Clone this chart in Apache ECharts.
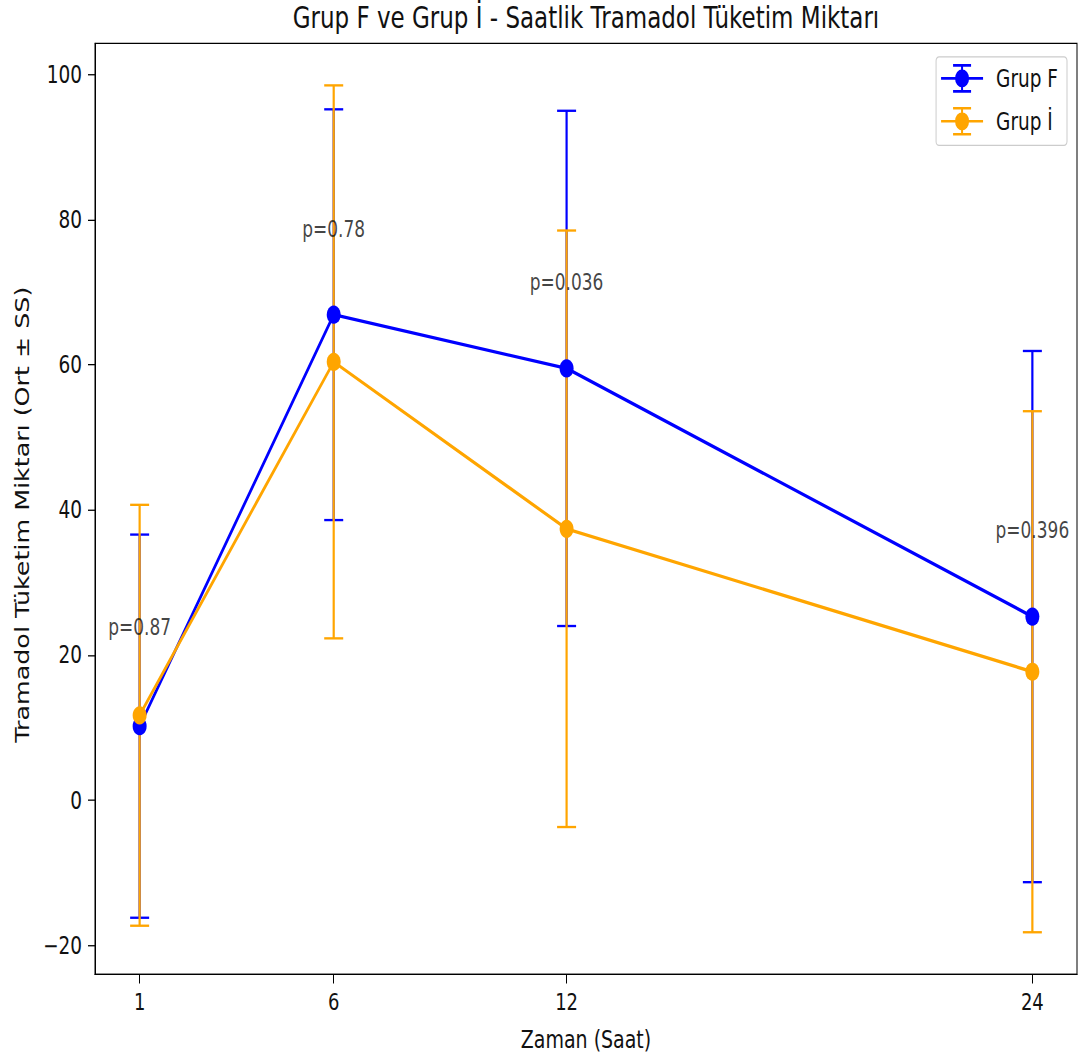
<!DOCTYPE html>
<html>
<head>
<meta charset="utf-8">
<script src="https://cdn.jsdelivr.net/npm/echarts@6/dist/echarts.min.js"></script>
<style>
  html, body { margin: 0; padding: 0; background: #fff; width: 1080px; height: 1058px; }
  #wrap { width: 1080px; height: 1058px; position: relative; overflow: hidden; }
  #chart { position: absolute; left: 0; top: 0; width: 1080px; height: 814px; transform: scaleY(1.3); transform-origin: 0 0; }
</style>
</head>
<body>
<div id="wrap"><div id="chart"></div></div>
<script>
const hours = [1, 6, 12, 24];
const grupFMean = [10.2, 66.9, 59.5, 25.3];
const grupFSD = [26.4, 28.3, 35.5, 36.6];
const grupIMean = [11.7, 60.4, 37.4, 17.7];
const grupISD = [29.0, 38.1, 41.1, 35.9];
const pLabels = ['p=0.87', 'p=0.78', 'p=0.036', 'p=0.396'];
const pLabelY = [23.7, 78.6, 71.3, 37.2];
const xTicks = [1, 6, 12, 24];
const yTicks = [-20, 0, 20, 40, 60, 80, 100];

const FONT = 'DejaVu Sans';
const BLUE = '#0000ff';
const ORANGE = '#ffa500';
const ICON = 'path://M0,10H42V12H0Z M20,0H22V22H20Z M12,0H30V2H12Z M12,20H30V22H12Z M14,11A7,7 0 1,1 28,11A7,7 0 1,1 14,11Z';

function errData(mean, sd) {
  return hours.map((h, i) => [h, mean[i] - sd[i], mean[i] + sd[i]]);
}
function errRenderer(color) {
  return function (params, api) {
    const x = api.value(0);
    const lo = api.coord([x, api.value(1)]);
    const hi = api.coord([x, api.value(2)]);
    const half = 9.5;
    return {
      type: 'group',
      children: [
        { type: 'line', shape: { x1: lo[0], y1: lo[1], x2: hi[0], y2: hi[1] }, style: { stroke: color, lineWidth: 2.2 } },
        { type: 'line', shape: { x1: lo[0] - half, y1: lo[1], x2: lo[0] + half, y2: lo[1] }, style: { stroke: color, lineWidth: 1.8 } },
        { type: 'line', shape: { x1: hi[0] - half, y1: hi[1], x2: hi[0] + half, y2: hi[1] }, style: { stroke: color, lineWidth: 1.8 } }
      ]
    };
  };
}

const chart = echarts.init(document.getElementById('chart'), null, { renderer: 'svg' });
chart.setOption({
  animation: false,
  title: {
    text: 'Grup F ve Grup İ - Saatlik Tramadol Tüketim Miktarı',
    left: 586, top: 1.5, padding: 0, textAlign: 'center',
    textStyle: { fontFamily: FONT, fontSize: 23, fontWeight: 'normal', color: '#111' }
  },
  legend: {
    orient: 'vertical', right: 13, top: 43.8,
    padding: [5.5, 9, 7.5, 5],
    itemWidth: 42, itemHeight: 22, itemGap: 11,
    borderColor: '#cccccc', borderWidth: 1, borderRadius: 3,
    backgroundColor: 'rgba(255,255,255,0.8)',
    textStyle: { fontFamily: FONT, fontSize: 18.5, color: '#111', padding: [0, 0, 0, 8] },
    data: [
      { name: 'Grup F', icon: ICON, itemStyle: { borderWidth: 0 } },
      { name: 'Grup İ', icon: ICON, itemStyle: { borderWidth: 0 } }
    ]
  },
  grid: { left: 95, right: 3, top: 33.3, bottom: 64.5, show: true, borderColor: '#000', borderWidth: 1 },
  xAxis: {
    type: 'value', min: -0.15, max: 25.15,
    name: 'Zaman (Saat)', nameLocation: 'middle', nameGap: 40.5,
    nameTextStyle: { fontFamily: FONT, fontSize: 19, color: '#111' },
    axisLine: { show: true, onZero: false, lineStyle: { color: '#000', width: 1 } },
    axisTick: { show: true, length: 7, lineStyle: { color: '#000', width: 1 }, customValues: xTicks },
    axisLabel: { fontFamily: FONT, fontSize: 18, color: '#111', margin: 12, customValues: xTicks },
    splitLine: { show: false }
  },
  yAxis: {
    type: 'value', min: -24, max: 104.3,
    name: 'Tramadol Tüketim Miktarı (Ort ± SS)', nameLocation: 'middle', nameGap: 62, nameRotate: 90,
    nameTextStyle: { fontFamily: FONT, fontSize: 19.5, color: '#111', padding: [0, 9, 0, 0] },
    axisLine: { show: true, onZero: false, lineStyle: { color: '#000', width: 1 } },
    axisTick: { show: true, length: 7, lineStyle: { color: '#000', width: 1 }, customValues: yTicks },
    axisLabel: { fontFamily: FONT, fontSize: 18.5, color: '#111', margin: 13, customValues: yTicks,
                 formatter: (v) => String(v).replace('-', '\u2212') },
    splitLine: { show: false }
  },
  series: [
    { name: 'Grup F SS', type: 'custom', z: 2, silent: true, renderItem: errRenderer(BLUE), data: errData(grupFMean, grupFSD), encode: { x: 0, y: [1, 2] } },
    { name: 'Grup İ SS', type: 'custom', z: 3, silent: true, renderItem: errRenderer(ORANGE), data: errData(grupIMean, grupISD), encode: { x: 0, y: [1, 2] } },
    { name: 'Grup F', type: 'line', z: 4, color: BLUE, symbol: 'circle', symbolSize: 14,
      lineStyle: { width: 2.6, color: BLUE }, itemStyle: { color: BLUE, borderWidth: 0 },
      data: hours.map((h, i) => [h, grupFMean[i]]) },
    { name: 'Grup İ', type: 'line', z: 5, color: ORANGE, symbol: 'circle', symbolSize: 14,
      lineStyle: { width: 2.6, color: ORANGE }, itemStyle: { color: ORANGE, borderWidth: 0 },
      data: hours.map((h, i) => [h, grupIMean[i]]) },
    { name: 'p', type: 'scatter', z: 6, silent: true, symbolSize: 0,
      label: { show: true, position: 'inside', formatter: (p) => pLabels[p.dataIndex],
               fontFamily: FONT, fontSize: 17, color: '#111' },
      data: hours.map((h, i) => [h, pLabelY[i]]) }
  ]
});
</script>
</body>
</html>
